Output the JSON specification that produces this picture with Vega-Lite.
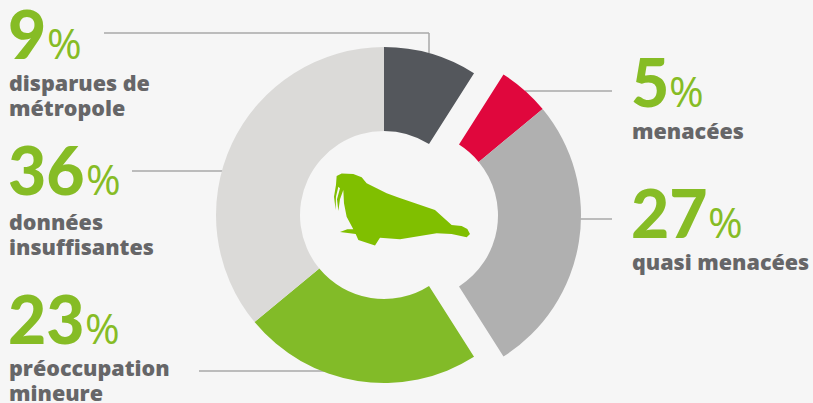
{
"$schema":"https://vega.github.io/schema/vega-lite/v6.json",
"width":813,"height":403,"padding":0,"autosize":{"type":"none"},"background":"#f6f6f6",
"config":{"view":{"stroke":null},"axis":{"disable":true}},
"data":{"values":[
{"categorie":"disparues de métropole","libelle":"disparues de\nmétropole","pct":9,"debut":0,"fin":9},
{"categorie":"menacées","libelle":"menacées","pct":5,"debut":9,"fin":14},
{"categorie":"quasi menacées","libelle":"quasi menacées","pct":27,"debut":14,"fin":41},
{"categorie":"préoccupation mineure","libelle":"préoccupation\nmineure","pct":23,"debut":41,"fin":64},
{"categorie":"données insuffisantes","libelle":"données\ninsuffisantes","pct":36,"debut":64,"fin":100}
]},
"layer":[
{"transform":[{"filter":"datum.pct==9"}],"mark":{"type":"rule","color":"#a8a8a8","strokeWidth":1.5},"encoding":{"x":{"datum":104,"type":"quantitative","scale":{"domain":[0,813],"nice":false,"zero":false}},"x2":{"datum":429},"y":{"datum":33,"type":"quantitative","scale":{"domain":[403,0],"nice":false,"zero":false}}}},
{"transform":[{"filter":"datum.pct==9"}],"mark":{"type":"rule","color":"#a8a8a8","strokeWidth":1.5},"encoding":{"x":{"datum":429,"type":"quantitative"},"y":{"datum":33,"type":"quantitative"},"y2":{"datum":53}}},
{"transform":[{"filter":"datum.pct==5"}],"mark":{"type":"rule","color":"#a8a8a8","strokeWidth":1.5},"encoding":{"x":{"datum":525,"type":"quantitative"},"x2":{"datum":612},"y":{"datum":91,"type":"quantitative"}}},
{"transform":[{"filter":"datum.pct==27"}],"mark":{"type":"rule","color":"#a8a8a8","strokeWidth":1.5},"encoding":{"x":{"datum":575,"type":"quantitative"},"x2":{"datum":612},"y":{"datum":219,"type":"quantitative"}}},
{"transform":[{"filter":"datum.pct==36"}],"mark":{"type":"rule","color":"#a8a8a8","strokeWidth":1.5},"encoding":{"x":{"datum":132,"type":"quantitative"},"x2":{"datum":225},"y":{"datum":171,"type":"quantitative"}}},
{"transform":[{"filter":"datum.pct==23"}],"mark":{"type":"rule","color":"#a8a8a8","strokeWidth":1.5},"encoding":{"x":{"datum":199,"type":"quantitative"},"x2":{"datum":330},"y":{"datum":371,"type":"quantitative"}}},
{"transform":[{"filter":"datum.pct==9 || datum.pct==23 || datum.pct==36"}],"mark":{"type":"arc","radius":168,"radius2":84},"encoding":{"x":{"datum":384,"type":"quantitative"},"y":{"datum":215,"type":"quantitative"},"theta":{"field":"debut","type":"quantitative","stack":null,"scale":{"domain":[0,100],"range":[0,6.28319]}},"theta2":{"field":"fin"},"color":{"field":"categorie","type":"nominal","legend":null,"scale":{"domain":["disparues de métropole","menacées","quasi menacées","préoccupation mineure","données insuffisantes"],"range":["#54575c","#e0073d","#b0b0b0","#82bb28","#dbdad8"]}}}},
{"transform":[{"filter":"datum.pct==5 || datum.pct==27"}],"mark":{"type":"arc","radius":167,"radius2":84},"encoding":{"x":{"datum":414,"type":"quantitative"},"y":{"datum":215.5,"type":"quantitative"},"theta":{"field":"debut","type":"quantitative","stack":null},"theta2":{"field":"fin"},"color":{"field":"categorie","type":"nominal","legend":null}}},
{"data":{"values":[{"espece":"morse"}]},"mark":{"type":"point","filled":true,"opacity":1,"color":"#80bf00","size":18496,"shape":"M-0.961 -0.49L-0.887 -0.525L-0.716 -0.52L-0.593 -0.471L-0.52 -0.382L-0.225 -0.235L-0.054 -0.172L0.485 0.01L0.73 0.23L0.877 0.245L0.961 0.289L1 0.363L0.951 0.412L0.73 0.363L0.51 0.353L-0.029 0.441L-0.324 0.417L-0.397 0.534L-0.642 0.451L-0.681 0.363L-0.912 0.333L-0.804 0.294L-0.716 0.294L-0.814 0.108L-0.853 -0.088L-0.863 -0.284L-0.912 -0.147L-0.936 0.025L-0.956 -0.147L-0.912 -0.309L-0.936 -0.333L-0.971 -0.186L-0.975 0.01L-1 -0.186L-0.971 -0.358Z"},"encoding":{"x":{"datum":402,"type":"quantitative"},"y":{"datum":209.3,"type":"quantitative"}}},

{"transform":[{"filter":"datum.pct==9"}],"mark":{"type":"text","align":"left","baseline":"alphabetic","font":"Lato","fontWeight":900,"fontSize":66,"color":"#86bc25"},"encoding":{"x":{"datum":8,"type":"quantitative"},"y":{"datum":59,"type":"quantitative"},"text":{"field":"pct"}}},
{"transform":[{"filter":"datum.pct==9"}],"mark":{"type":"text","text":"%","align":"left","baseline":"alphabetic","font":"Open Sans","fontWeight":500,"fontSize":42,"color":"#86bc25"},"encoding":{"x":{"datum":47,"type":"quantitative"},"y":{"datum":59,"type":"quantitative"}}},
{"transform":[{"filter":"datum.pct==9"}],"mark":{"type":"text","align":"left","baseline":"alphabetic","font":"Open Sans","fontWeight":800,"fontSize":21.5,"lineHeight":25,"lineBreak":"\n","color":"#666668"},"encoding":{"x":{"datum":9,"type":"quantitative"},"y":{"datum":91,"type":"quantitative"},"text":{"field":"libelle"}}},

{"transform":[{"filter":"datum.pct==36"}],"mark":{"type":"text","align":"left","baseline":"alphabetic","font":"Lato","fontWeight":900,"fontSize":66,"color":"#86bc25"},"encoding":{"x":{"datum":8,"type":"quantitative"},"y":{"datum":195,"type":"quantitative"},"text":{"field":"pct"}}},
{"transform":[{"filter":"datum.pct==36"}],"mark":{"type":"text","text":"%","align":"left","baseline":"alphabetic","font":"Open Sans","fontWeight":500,"fontSize":42,"color":"#86bc25"},"encoding":{"x":{"datum":86,"type":"quantitative"},"y":{"datum":195,"type":"quantitative"}}},
{"transform":[{"filter":"datum.pct==36"}],"mark":{"type":"text","align":"left","baseline":"alphabetic","font":"Open Sans","fontWeight":800,"fontSize":21.5,"lineHeight":25,"lineBreak":"\n","color":"#666668"},"encoding":{"x":{"datum":9,"type":"quantitative"},"y":{"datum":230,"type":"quantitative"},"text":{"field":"libelle"}}},

{"transform":[{"filter":"datum.pct==23"}],"mark":{"type":"text","align":"left","baseline":"alphabetic","font":"Lato","fontWeight":900,"fontSize":66,"color":"#86bc25"},"encoding":{"x":{"datum":8,"type":"quantitative"},"y":{"datum":344,"type":"quantitative"},"text":{"field":"pct"}}},
{"transform":[{"filter":"datum.pct==23"}],"mark":{"type":"text","text":"%","align":"left","baseline":"alphabetic","font":"Open Sans","fontWeight":500,"fontSize":42,"color":"#86bc25"},"encoding":{"x":{"datum":85,"type":"quantitative"},"y":{"datum":344,"type":"quantitative"}}},
{"transform":[{"filter":"datum.pct==23"}],"mark":{"type":"text","align":"left","baseline":"alphabetic","font":"Open Sans","fontWeight":800,"fontSize":21.5,"lineHeight":25,"lineBreak":"\n","color":"#666668"},"encoding":{"x":{"datum":9,"type":"quantitative"},"y":{"datum":376,"type":"quantitative"},"text":{"field":"libelle"}}},

{"transform":[{"filter":"datum.pct==5"}],"mark":{"type":"text","align":"left","baseline":"alphabetic","font":"Lato","fontWeight":900,"fontSize":66,"color":"#86bc25"},"encoding":{"x":{"datum":631,"type":"quantitative"},"y":{"datum":107,"type":"quantitative"},"text":{"field":"pct"}}},
{"transform":[{"filter":"datum.pct==5"}],"mark":{"type":"text","text":"%","align":"left","baseline":"alphabetic","font":"Open Sans","fontWeight":500,"fontSize":42,"color":"#86bc25"},"encoding":{"x":{"datum":669,"type":"quantitative"},"y":{"datum":107,"type":"quantitative"}}},
{"transform":[{"filter":"datum.pct==5"}],"mark":{"type":"text","align":"left","baseline":"alphabetic","font":"Open Sans","fontWeight":800,"fontSize":21.5,"color":"#666668"},"encoding":{"x":{"datum":632,"type":"quantitative"},"y":{"datum":139,"type":"quantitative"},"text":{"field":"libelle"}}},

{"transform":[{"filter":"datum.pct==27"}],"mark":{"type":"text","align":"left","baseline":"alphabetic","font":"Lato","fontWeight":900,"fontSize":66,"color":"#86bc25"},"encoding":{"x":{"datum":631,"type":"quantitative"},"y":{"datum":238,"type":"quantitative"},"text":{"field":"pct"}}},
{"transform":[{"filter":"datum.pct==27"}],"mark":{"type":"text","text":"%","align":"left","baseline":"alphabetic","font":"Open Sans","fontWeight":500,"fontSize":42,"color":"#86bc25"},"encoding":{"x":{"datum":708,"type":"quantitative"},"y":{"datum":238,"type":"quantitative"}}},
{"transform":[{"filter":"datum.pct==27"}],"mark":{"type":"text","align":"left","baseline":"alphabetic","font":"Open Sans","fontWeight":800,"fontSize":21.5,"color":"#666668"},"encoding":{"x":{"datum":632,"type":"quantitative"},"y":{"datum":270,"type":"quantitative"},"text":{"field":"libelle"}}}
]
}
